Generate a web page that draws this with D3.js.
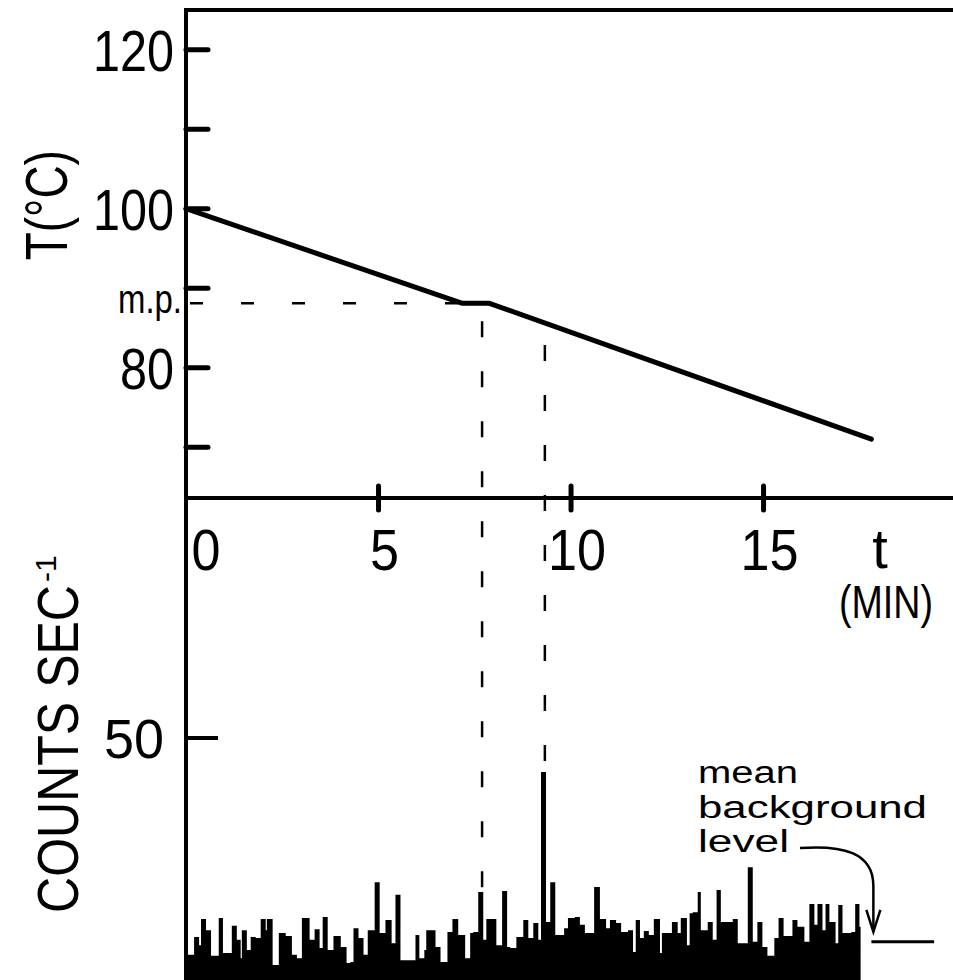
<!DOCTYPE html>
<html lang="en">
<head>
    <meta charset="utf-8">
    <title>Melting point and counts</title>
    <style>
        html, body { margin: 0; padding: 0; background: #fff; }
        text { font-family: "Liberation Sans", "DejaVu Sans", sans-serif; fill: #000; }
    </style>
</head>
<body>
    <svg id="chart" width="953" height="980"></svg>
    <script src="https://cdn.jsdelivr.net/npm/d3@7"></script>
    <script>
        // upper panel: temperature against time
        const tempTicks = [70, 80, 90, 100, 110, 120];
        const tempLabels = [80, 100, 120];
        const meltingPoint = 88.1;
        const tempTime = [0, 7.18, 7.88, 17.8];
        const tempValue = [100, 88.1, 88.1, 71.0];

        // time axis
        const timeTicks = [5, 10, 15];
        const timeLabels = [0, 5, 10, 15];
        const markTimes = [7.69, 9.32];

        // lower panel: counts per second, step trace
        const countTicks = [50];
        const countTime = [
            0, 0.21, 0.34, 0.39, 0.52, 0.65, 0.85, 0.96, 1.19, 1.32, 1.42, 1.45, 1.58, 1.68, 1.81, 1.94,
            2.07, 2.10, 2.25, 2.41, 2.59, 2.75, 2.88, 3.01, 3.21, 3.34, 3.47, 3.55, 3.68, 3.83, 4.02, 4.17,
            4.27, 4.35, 4.48, 4.61, 4.72, 4.90, 5.03, 5.18, 5.34, 5.44, 5.57, 5.96, 6.06, 6.19, 6.24, 6.48,
            6.61, 6.79, 6.92, 7.07, 7.25, 7.38, 7.46, 7.59, 7.72, 7.80, 8.06, 8.21, 8.34, 8.42, 8.58,
            8.76, 8.89, 9.02, 9.15, 9.22, 9.35, 9.46, 9.59, 9.82, 9.92, 10.10, 10.23, 10.36, 10.60, 10.75,
            10.91, 11.01, 11.17, 11.30, 11.48, 11.61, 11.68, 11.79, 11.89, 12.02, 12.15, 12.31, 12.36,
            12.62, 12.77, 12.85, 13.01, 13.08,
            13.16, 13.29, 13.37, 13.55, 13.68, 13.78, 13.89, 14.20, 14.33, 14.59, 14.72, 14.84, 14.97,
            15.10, 15.28, 15.39, 15.52, 15.75, 15.88, 16.06, 16.19, 16.32, 16.40, 16.53, 16.61, 16.71,
            16.87, 16.94, 17.05, 17.28, 17.38, 17.49
        ];
        const countValue = [
            5.2, 8.9, 7.2, 12.6, 10.3, 5.0, 12.8, 5.6, 11.2, 8.3, 4.5, 10.3, 6.2, 8.9, 8.7, 12.6,
            10.3, 12.6, 3.1, 9.7, 9.1, 5.2, 4.5, 12.8, 8.3, 10.5, 6.6, 13.0, 6.2, 9.1, 6.8, 3.5,
            3.7, 10.7, 8.7, 5.2, 10.3, 20.2, 9.7, 12.4, 7.6, 17.6, 4.1, 9.3, 4.5, 6.2, 10.3, 6.8,
            3.7, 9.9, 12.6, 9.3, 4.5, 9.7, 9.9, 18.2, 8.3, 12.6, 7.2, 18.4, 6.8, 6.6, 8.9,
            12.4, 8.7, 11.8, 8.3, 43.0, 12.0, 20.2, 9.3, 10.7, 12.8, 13.0, 11.4, 9.7, 19.2, 12.6,
            10.7, 12.4, 11.8, 9.9, 10.3, 5.8, 12.4, 8.7, 10.1, 9.3, 12.6, 5.6, 9.7,
            12.0, 9.7, 12.8, 7.2, 13.8,
            14.0, 18.2, 10.3, 12.0, 8.3, 18.6, 12.0, 12.6, 7.6, 23.3, 7.9, 12.0, 6.8,
            5.0, 8.7, 12.8, 9.1, 12.4, 11.0, 7.9, 15.7, 11.4, 15.7, 10.3, 15.7, 12.0,
            7.6, 15.5, 9.7, 9.9, 15.7, 11.0
        ];
        const countEnd = 17.52;
        const backgroundLevel = 7.9;
        const backgroundSpan = [17.8, 19.43];
        const noteLines = ["mean", "background", "level"];

        const svg = d3.select("#chart");
        const width = +svg.attr("width");
        const height = +svg.attr("height");

        const x = d3.scaleLinear().domain([0, 19.92]).range([186, width]);
        const yT = d3.scaleLinear().domain([63.6, 125]).range([498, 10]);
        const yC = d3.scaleLinear().domain([0, 50]).range([height, 738]);

        svg.append("rect").attr("width", width).attr("height", height).attr("fill", "#fff");

        // counts trace
        const bins = countTime.map((t, i) => ({t: t, v: countValue[i]}));
        bins.push({t: countEnd, v: countValue[countValue.length - 1]});
        svg.append("path")
            .attr("d", d3.area()
                .x(d => x(d.t))
                .y0(yC(0))
                .y1(d => yC(d.v))
                .curve(d3.curveStepAfter)(bins))
            .attr("fill", "#000");

        // background level bar
        svg.append("line")
            .attr("x1", x(backgroundSpan[0])).attr("x2", x(backgroundSpan[1]))
            .attr("y1", yC(backgroundLevel)).attr("y2", yC(backgroundLevel))
            .attr("stroke", "#000").attr("stroke-width", 3);

        // frame
        const frame = svg.append("g").attr("stroke", "#000").attr("stroke-width", 4);
        frame.append("line").attr("x1", x(0)).attr("x2", x(0)).attr("y1", yT.range()[1]).attr("y2", height);
        frame.append("line").attr("x1", x(0) - 2).attr("x2", width).attr("y1", yT.range()[1]).attr("y2", yT.range()[1]);
        frame.append("line").attr("x1", x(0)).attr("x2", width).attr("y1", yT.range()[0]).attr("y2", yT.range()[0]);

        // temperature ticks
        svg.append("g").selectAll("line").data(tempTicks).join("line")
            .attr("x1", x(0)).attr("x2", x(0) + 22)
            .attr("y1", d => yT(d)).attr("y2", d => yT(d))
            .attr("stroke", "#000").attr("stroke-width", 5).attr("stroke-linecap", "round");

        svg.append("g").selectAll("text").data(tempLabels).join("text")
            .attr("x", 174).attr("y", d => yT(d) + 21)
            .attr("text-anchor", "end")
            .attr("font-size", 58)
            .attr("textLength", d => String(d).length * 27)
            .attr("lengthAdjust", "spacingAndGlyphs")
            .text(d => d);

        svg.append("text")
            .attr("x", 182).attr("y", yT(meltingPoint) + 10)
            .attr("text-anchor", "end")
            .attr("font-size", 40)
            .attr("textLength", 64)
            .attr("lengthAdjust", "spacingAndGlyphs")
            .text("m.p.");

        // time ticks crossing the axis
        svg.append("g").selectAll("line").data(timeTicks).join("line")
            .attr("x1", d => x(d)).attr("x2", d => x(d))
            .attr("y1", yT.range()[0] - 12).attr("y2", yT.range()[0] + 12)
            .attr("stroke", "#000").attr("stroke-width", 5).attr("stroke-linecap", "round");

        svg.append("g").selectAll("text").data(timeLabels).join("text")
            .attr("x", d => x(d) + (d === 0 ? 20 : 6))
            .attr("y", 570)
            .attr("text-anchor", "middle")
            .attr("font-size", 58)
            .attr("textLength", d => String(d).length * 29)
            .attr("lengthAdjust", "spacingAndGlyphs")
            .text(d => d);

        svg.append("text").attr("x", 880).attr("y", 568)
            .attr("text-anchor", "middle").attr("font-size", 56).text("t");
        svg.append("text").attr("x", 886).attr("y", 618)
            .attr("text-anchor", "middle").attr("font-size", 46)
            .attr("textLength", 94).attr("lengthAdjust", "spacingAndGlyphs")
            .text("(MIN)");

        // count ticks
        svg.append("g").selectAll("line").data(countTicks).join("line")
            .attr("x1", x(0)).attr("x2", x(0) + 32)
            .attr("y1", d => yC(d)).attr("y2", d => yC(d))
            .attr("stroke", "#000").attr("stroke-width", 4);
        svg.append("g").selectAll("text").data(countTicks).join("text")
            .attr("x", 164).attr("y", d => yC(d) + 20)
            .attr("text-anchor", "end")
            .attr("font-size", 56)
            .attr("textLength", 60)
            .attr("lengthAdjust", "spacingAndGlyphs")
            .text(d => d);

        // temperature curve
        const tempPts = tempTime.map((t, i) => [x(t), yT(tempValue[i])]);
        svg.append("path")
            .attr("d", d3.line()(tempPts))
            .attr("fill", "none").attr("stroke", "#000")
            .attr("stroke-width", 5).attr("stroke-linejoin", "round").attr("stroke-linecap", "round");

        // dashed guides
        svg.append("line")
            .attr("x1", x(0) + 4).attr("x2", x(tempTime[1]))
            .attr("y1", yT(meltingPoint)).attr("y2", yT(meltingPoint))
            .attr("stroke", "#000").attr("stroke-width", 2.5)
            .attr("stroke-dasharray", "13 38");

        const tempAt = d3.scaleLinear().domain(tempTime).range(tempValue);
        const countAt = t => countValue[d3.bisectRight(countTime, t) - 1];
        svg.append("g").selectAll("line").data(markTimes).join("line")
            .attr("x1", d => x(d)).attr("x2", d => x(d))
            .attr("y1", (d, i) => yT(tempAt(d)) + (i === 0 ? 18 : 22))
            .attr("y2", d => yC(countAt(d)))
            .attr("stroke", "#000").attr("stroke-width", 2.5)
            .attr("stroke-dasharray", "16 34");

        // axis titles
        svg.append("text")
            .attr("transform", `translate(67,${yT(110) + 76}) rotate(-90)`)
            .attr("text-anchor", "middle")
            .attr("font-size", 60)
            .attr("textLength", 110)
            .attr("lengthAdjust", "spacingAndGlyphs")
            .text("T(°C)");

        const ct = svg.append("g").attr("transform", "translate(78,913) rotate(-90)");
        ct.append("text")
            .attr("x", 0).attr("y", 0)
            .attr("font-size", 57)
            .attr("textLength", 328)
            .attr("lengthAdjust", "spacingAndGlyphs")
            .text("COUNTS SEC");
        ct.append("text")
            .attr("x", 331).attr("y", -22)
            .attr("font-size", 30)
            .text("-1");

        // note with arrow
        svg.append("g").selectAll("text").data(noteLines).join("text")
            .attr("x", 698)
            .attr("y", (d, i) => 783 + i * 34.5)
            .attr("font-size", 31)
            .attr("textLength", d => ({mean: 100, background: 229, level: 91})[d])
            .attr("lengthAdjust", "spacingAndGlyphs")
            .text(d => d);

        const tipX = x(backgroundSpan[0]) + 2;
        const tipY = yC(backgroundLevel) - 10;
        svg.append("path")
            .attr("d", `M800,848 C842,845 ${tipX},852 ${tipX},886 L${tipX},${tipY}`)
            .attr("fill", "none").attr("stroke", "#000").attr("stroke-width", 2.5);
        svg.append("path")
            .attr("d", `M${tipX - 7},${tipY - 22} L${tipX},${tipY} L${tipX + 7},${tipY - 22}`)
            .attr("fill", "none").attr("stroke", "#000").attr("stroke-width", 2.5);
    </script>
</body>
</html>
